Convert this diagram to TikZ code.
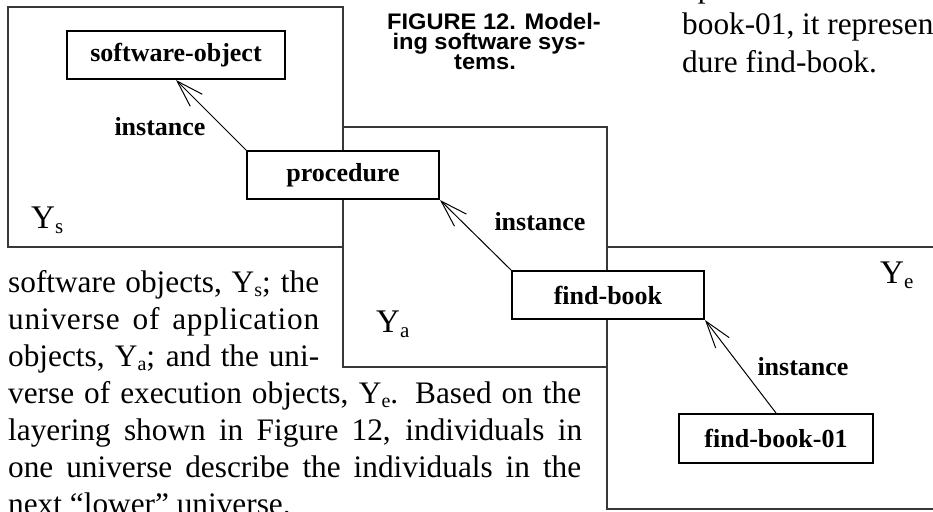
\documentclass[tikz,border=0pt]{standalone}
\usepackage{fontspec}
\setmainfont{Liberation Serif}
\newfontfamily\capfont[FakeStretch=1.05]{Liberation Sans}
\usetikzlibrary{arrows.meta}
\newcommand\mysub[3]{\raisebox{-#2}{\fontsize{#1}{#1}\selectfont #3}}
\begin{document}
\begin{tikzpicture}[x=1pt,y=-1pt,
  region/.style={draw=black!78, line width=1.5pt},
  obj/.style={draw=black, line width=2pt, fill=white, inner sep=0pt,
    font=\fontsize{26}{30}\selectfont\bfseries},
  lbl/.style={inner sep=0pt, font=\fontsize{26}{30}\selectfont\bfseries},
  inst/.style={draw=black, line width=1pt,
    -{Straight Barb[length=27pt,width=17pt,line width=1pt]}},
  body/.style={inner sep=0pt, anchor=base west, font=\fontsize{31.3}{37}\selectfont},
  captext/.style={inner sep=0pt, anchor=base, font=\capfont\bfseries\fontsize{22.5}{19}\selectfont},
  ylab/.style={inner sep=0pt, anchor=base west, font=\fontsize{33}{38}\selectfont}]
\useasboundingbox (0,0) rectangle (933,511);
\clip (0,0) rectangle (933,511);
\fill[white] (0,0) rectangle (933,511);

% universes
\draw[region] (8,7) rectangle (343,247);
\draw[region] (343,127) rectangle (607,367);
\draw[region] (607,247) rectangle (950,509);

% objects
\node[obj, minimum width=218pt, minimum height=48pt] (so) at (176,55) {software-object};
\node[obj, minimum width=192pt, minimum height=48pt] (proc) at (343,175) {procedure};
\node[obj, minimum width=192pt, minimum height=48pt] (fb) at (608,295) {find-book};
\node[obj, minimum width=194pt, minimum height=49pt] (fb01) at (776,438.5) {find-book-01};

% instance links
\draw[inst] (proc.north west) -- (so.south);
\draw[inst] (fb.north west) -- (proc.south east);
\draw[inst] (fb01.north) -- (fb.south east);

\node[lbl] (i1) at (160,127) {instance};
\node[lbl] (i2) at (540,222) {instance};
\node[lbl] (i3) at (803,367) {instance};

% universe labels
\node[ylab] (ys) at (31,228) {Y\mysub{21}{5pt}{s}};
\node[ylab] (ya) at (376,332) {Y\mysub{21}{5pt}{a}};
\node[ylab] (ye) at (880,283) {Y\mysub{21}{5pt}{e}};

% caption
\node[captext] (c1) at (494,30) {FIGURE 12. Model-};
\node[captext] (c2) at (489,49.5) {ing software sys-};
\node[captext] (c3) at (485,69) {tems.};

% surrounding body text
\node[body] (l1) at (8,292) {\makebox[311pt][s]{software objects, Y\mysub{20}{4pt}{s}; the}};
\node[body] (l2) at (8,329) {\makebox[311pt][s]{\addfontfeature{LetterSpace=2.5}universe of application}};
\node[body] (l3) at (8,366) {\makebox[311pt][s]{objects, Y\mysub{20}{4pt}{a}; and the uni-}};
\node[body] (l4) at (8,403) {\makebox[573pt][s]{verse of execution objects, Y\mysub{20}{4pt}{e}. Based on the}};
\node[body] (l5) at (8,440) {\makebox[574pt][s]{layering shown in Figure 12, individuals in}};
\node[body] (l6) at (8,477) {\makebox[573pt][s]{one universe describe the individuals in the}};
\node[body] (l7) at (8,514) {next “lower” universe.};

\node[body] (r0) at (682,-2) {up};
\node[body] (r1) at (682,35) {book-01, it represen};
\node[body] (r2) at (682,72) {dure find-book.};
\end{tikzpicture}
\end{document}
